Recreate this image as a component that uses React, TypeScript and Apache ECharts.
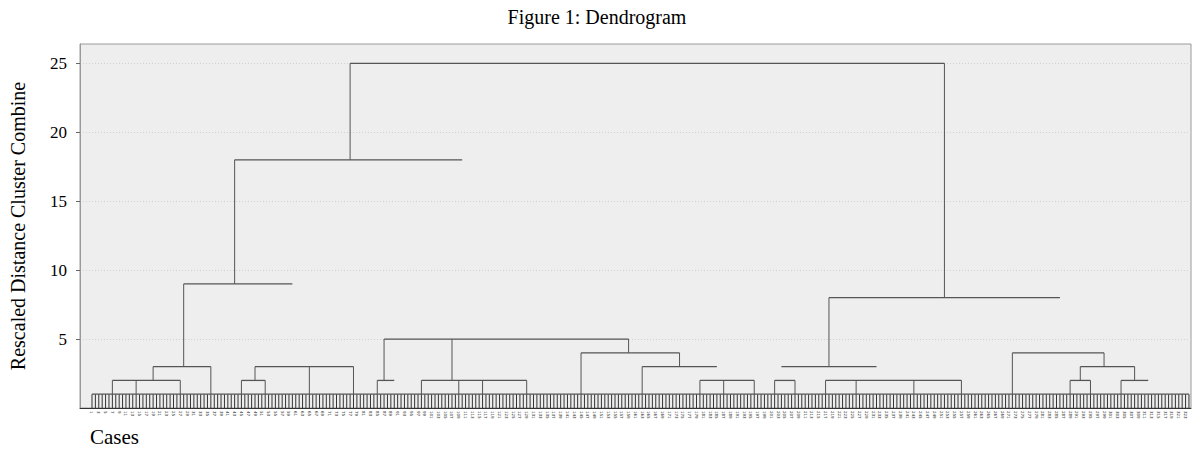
import React, { useEffect, useRef } from "react";
import * as echarts from "echarts";

// ---- data ----
const caseCount = 324;
const caseLabels: string[] = Array.from({ length: caseCount }, (_, i) => String(i + 1));
const yTickValues = [5, 10, 15, 20, 25];

// horizontal merge lines: [leftCase, rightCase, height]
const mergeLines: number[][] = [
  [76, 251, 25],
  [42, 109, 18],
  [27, 59, 9],
  [217, 285, 8],
  [86, 158, 5],
  [144, 173, 4],
  [271, 298, 4],
  [18, 35, 3],
  [48, 77, 3],
  [162, 184, 3],
  [203, 231, 3],
  [291, 307, 3],
  [6, 26, 2],
  [44, 51, 2],
  [84, 89, 2],
  [97, 128, 2],
  [179, 195, 2],
  [201, 207, 2],
  [216, 256, 2],
  [288, 294, 2],
  [303, 311, 2],
  [0, 323, 1],
];

// vertical links: [case, lowHeight, highHeight]
const linkLines: number[][] = [
  [76, 18, 25], [251, 8, 25],
  [42, 9, 18],
  [27, 3, 9],
  [217, 3, 8],
  [86, 2, 5], [106, 2, 5], [158, 4, 5],
  [144, 1, 4], [173, 3, 4],
  [271, 1, 4], [298, 3, 4],
  [18, 2, 3], [35, 1, 3],
  [48, 2, 3], [64, 1, 3], [77, 1, 3],
  [162, 1, 3],
  [291, 2, 3], [307, 2, 3],
  [6, 1, 2], [13, 1, 2], [26, 1, 2],
  [44, 1, 2], [51, 1, 2],
  [84, 1, 2],
  [97, 1, 2], [108, 1, 2], [115, 1, 2], [128, 1, 2],
  [179, 1, 2], [186, 1, 2], [195, 1, 2],
  [201, 1, 2], [207, 1, 2],
  [216, 1, 2], [225, 1, 2], [242, 1, 2], [256, 1, 2],
  [288, 1, 2], [294, 1, 2],
  [303, 1, 2],
];

const leafHeight = 1;

const FONT = "'Liberation Serif', 'Times New Roman', serif";

export default function App() {
  const ref = useRef<HTMLDivElement>(null);
  useEffect(() => {
    if (!ref.current) return;
    const chart = echarts.init(ref.current, undefined, { renderer: "svg" });

    const leafData = caseLabels.map((_, i) => [i, 0, leafHeight]);
    const evenCases = caseLabels.map((_, i) => i).filter((i) => i % 2 === 0);

    const option: any = {
      animation: false,
      backgroundColor: "#ffffff",
      textStyle: { fontFamily: FONT },
      title: {
        text: "Figure 1: Dendrogram",
        left: "center",
        top: 2,
        textStyle: { fontFamily: FONT, fontSize: 20, fontWeight: "normal", color: "#000" },
      },
      graphic: [
        {
          type: "text",
          left: 90,
          top: 426,
          style: { text: "Cases", font: `21px ${FONT}`, fill: "#000" },
        },
      ],
      grid: {
        left: 79,
        right: 3,
        top: 44,
        bottom: 44,
        show: true,
        backgroundColor: "#eeeeee",
        borderColor: "#9a9a9a",
        borderWidth: 1,
      },
      xAxis: {
        type: "value",
        min: -3.53,
        max: 323.6,
        axisLine: { show: true, onZero: false, lineStyle: { color: "#333", width: 1 } },
        axisTick: { show: false },
        splitLine: { show: false },
        axisLabel: {
          customValues: evenCases,
          rotate: -90,
          fontSize: 4,
          margin: 3,
          color: "#222",
          fontFamily: "DejaVu Sans",
          formatter: (v: number) => caseLabels[Math.round(v)] ?? "",
        },
      },
      yAxis: {
        type: "value",
        min: 0,
        max: 26.4,
        interval: 5,
        name: "Rescaled Distance Cluster Combine",
        nameLocation: "middle",
        nameGap: 52,
        nameTextStyle: { fontFamily: FONT, fontSize: 20, color: "#000" },
        axisLine: { show: true, onZero: false, lineStyle: { color: "#9a9a9a" } },
        axisTick: { show: true, length: 4, customValues: yTickValues, lineStyle: { color: "#666" } },
        axisLabel: {
          customValues: yTickValues,
          fontSize: 17,
          color: "#000",
          fontFamily: FONT,
          margin: 13,
        },
        splitLine: {
          show: true,
          lineStyle: { color: "#d0d0d0", type: [1, 2], width: 1 },
        },
      },
      series: [
        {
          type: "custom",
          name: "leaves",
          data: leafData,
          renderItem: (_p: any, api: any) => {
            const a = api.coord([api.value(0), api.value(1)]);
            const b = api.coord([api.value(0), api.value(2)]);
            return {
              type: "line",
              shape: { x1: a[0], y1: a[1], x2: b[0], y2: b[1] },
              style: { stroke: "#333", lineWidth: 1 },
            };
          },
        },
        {
          type: "custom",
          name: "merges",
          data: mergeLines,
          renderItem: (_p: any, api: any) => {
            const a = api.coord([api.value(0), api.value(2)]);
            const b = api.coord([api.value(1), api.value(2)]);
            return {
              type: "line",
              shape: { x1: a[0], y1: a[1], x2: b[0], y2: b[1] },
              style: { stroke: "#555", lineWidth: 1.3 },
            };
          },
        },
        {
          type: "custom",
          name: "links",
          data: linkLines,
          renderItem: (_p: any, api: any) => {
            const a = api.coord([api.value(0), api.value(1)]);
            const b = api.coord([api.value(0), api.value(2)]);
            return {
              type: "line",
              shape: { x1: a[0], y1: a[1], x2: b[0], y2: b[1] },
              style: { stroke: "#555", lineWidth: 1 },
            };
          },
        },
      ],
    };

    chart.setOption(option);
    return () => chart.dispose();
  }, []);

  return (
    <div
      ref={ref}
      style={{ position: "fixed", left: 0, top: 0, width: 1194, height: 452 }}
    />
  );
}
